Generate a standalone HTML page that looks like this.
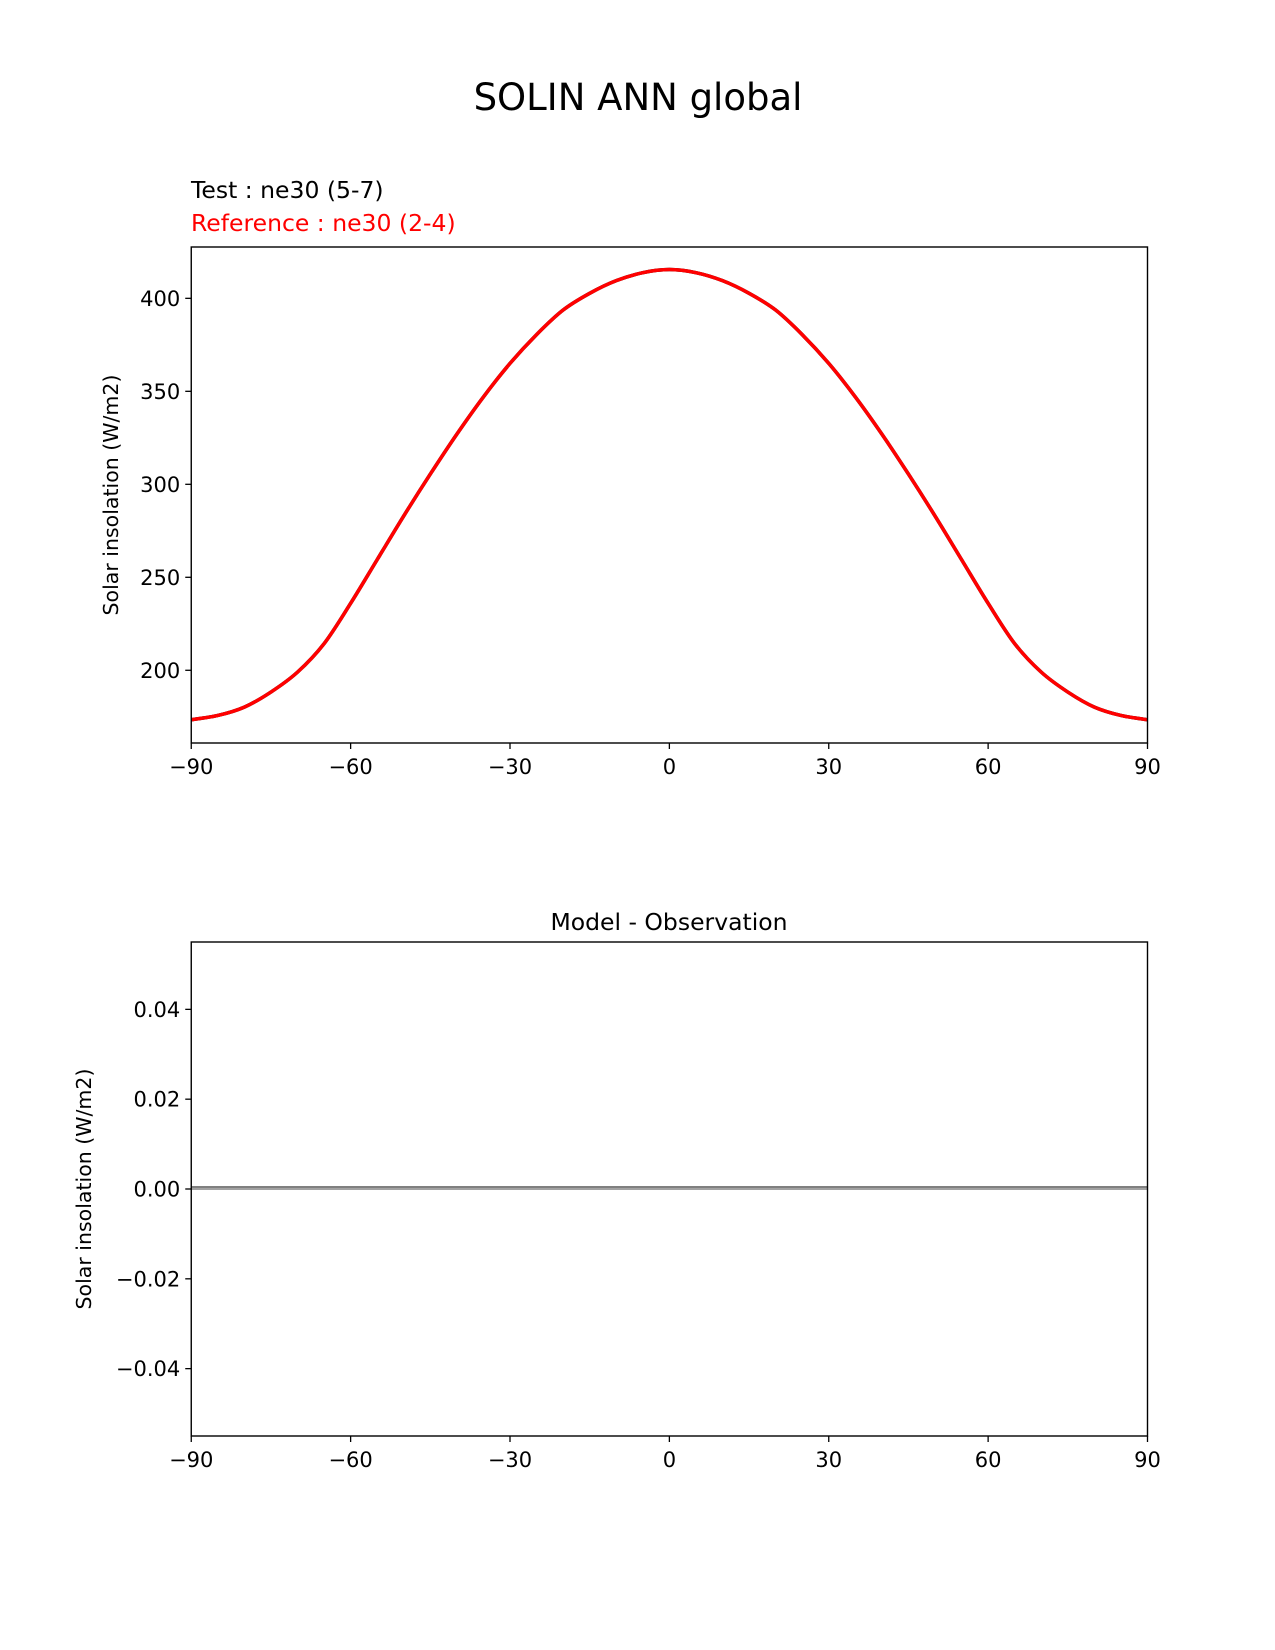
<!DOCTYPE html>
<html><head><meta charset="utf-8"><style>
html,body{margin:0;padding:0;background:#fff}
svg{display:block}
text{font-family:"DejaVu Sans","Liberation Sans",sans-serif;fill:#000}
</style></head><body>
<svg id="fig" width="1275" height="1650" viewBox="0 0 1275 1650">
<text x="638" y="110" font-size="37" text-anchor="middle">SOLIN ANN global</text>
<text x="191" y="198" font-size="23.5">Test : ne30 (5-7)</text>
<text x="191" y="231" font-size="23.5" style="fill:#f00">Reference : ne30 (2-4)</text>
<text x="669" y="930" font-size="23.5" text-anchor="middle">Model - Observation</text>
<text transform="translate(118,495) rotate(-90)" font-size="20.5" text-anchor="middle">Solar insolation (W/m2)</text>
<text transform="translate(91,1189) rotate(-90)" font-size="20.5" text-anchor="middle">Solar insolation (W/m2)</text>
<g id="top"></g>
<g id="bot"></g>
</svg>
<script>
const lats = [-90,-85,-80,-75,-70,-65,-60,-55,-50,-45,-40,-35,-30,-25,-20,-15,-10,-5,0,5,10,15,20,25,30,35,40,45,50,55,60,65,70,75,80,85,90];
const testVals = [173.4,175.7,180.2,188.3,199,214.3,236,259.5,283,305.5,327,347,365,380.5,393.7,402.7,409.5,413.8,415.5,413.8,409.5,402.7,393.7,380.5,365,347,327,305.5,283,259.5,236,214.3,199,188.3,180.2,175.7,173.4];
const refVals = testVals.slice();
const diffVals = lats.map((l,i)=>testVals[i]-refVals[i]);
const xTicks = [-90,-60,-30,0,30,60,90];
const xTickLabels = ["\u221290","\u221260","\u221230","0","30","60","90"];
const topYTicks = [200,250,300,350,400];
const botYTicks = [-0.04,-0.02,0,0.02,0.04];
const botYTickLabels = ["\u22120.04","\u22120.02","0.00","0.02","0.04"];

const NS="http://www.w3.org/2000/svg";
function mk(tag,attrs,parent,txt){const e=document.createElementNS(NS,tag);for(const k in attrs)e.setAttribute(k,attrs[k]);if(txt!==undefined)e.textContent=txt;parent.appendChild(e);return e;}
const L=191.25,R=1147.5;
const xs=v=>L+(v+90)/180*(R-L);
function panel(g,top,bottom,y0,y1,yTicks,yLabels,name){
  const ys=v=>bottom-(v-y0)/(y1-y0)*(bottom-top);
  xTicks.forEach((t,i)=>{
    const l=mk('line',{x1:xs(t),x2:xs(t),y1:bottom,y2:bottom+6,stroke:'#000','stroke-width':1.3},g);
    
    
    const tx=mk('text',{x:xs(t),y:bottom+31,'font-size':21,'text-anchor':'middle'},g,xTickLabels[i]);
    
    
  });
  yTicks.forEach((t,i)=>{
    const l=mk('line',{x1:L-6,x2:L,y1:ys(t),y2:ys(t),stroke:'#000','stroke-width':1.3},g);
    
    
    const tx=mk('text',{x:L-11,y:ys(t)+7.5,'font-size':21,'text-anchor':'end'},g,yLabels[i]);
    
    
  });
  return ys;
}
const gt=document.getElementById('top');
const ysT=panel(gt,247,743,160.9,427.6,topYTicks,topYTicks.map(String),'top');
function path(vals,ys){
  let pts=lats.map((l,i)=>[xs(l),ys(vals[i])]);
  let d='M'+pts[0][0]+','+pts[0][1];
  for(let i=0;i<pts.length-1;i++){
    const p0=pts[Math.max(0,i-1)],p1=pts[i],p2=pts[i+1],p3=pts[Math.min(pts.length-1,i+2)];
    const c1=[p1[0]+(p2[0]-p0[0])/6,p1[1]+(p2[1]-p0[1])/6];
    const c2=[p2[0]-(p3[0]-p1[0])/6,p2[1]-(p3[1]-p1[1])/6];
    d+=` C${c1[0]},${c1[1]} ${c2[0]},${c2[1]} ${p2[0]},${p2[1]}`;
  }
  return d;
}
const lt=mk('path',{d:path(testVals,ysT),fill:'none',stroke:'#000','stroke-width':3.5},gt);


const lr=mk('path',{d:path(refVals,ysT),fill:'none',stroke:'#f00','stroke-width':3.5},gt);


const ft=mk('rect',{x:L,y:247,width:R-L,height:496,fill:'none',stroke:'#000','stroke-width':1.4},gt);



const gb=document.getElementById('bot');
const ysB=panel(gb,942,1436,-0.055,0.055,botYTicks,botYTickLabels,'bottom');
const zl=mk('line',{x1:L,x2:R,y1:ysB(0),y2:ysB(0),stroke:'#444','stroke-width':1},gb);


const dl=mk('path',{d:path(diffVals,ysB),fill:'none',stroke:'#000','stroke-width':1,'transform':'translate(0,-2)'},gb);


const fb=mk('rect',{x:L,y:942,width:R-L,height:494,fill:'none',stroke:'#000','stroke-width':1.4},gb);


</script>
</body></html>
